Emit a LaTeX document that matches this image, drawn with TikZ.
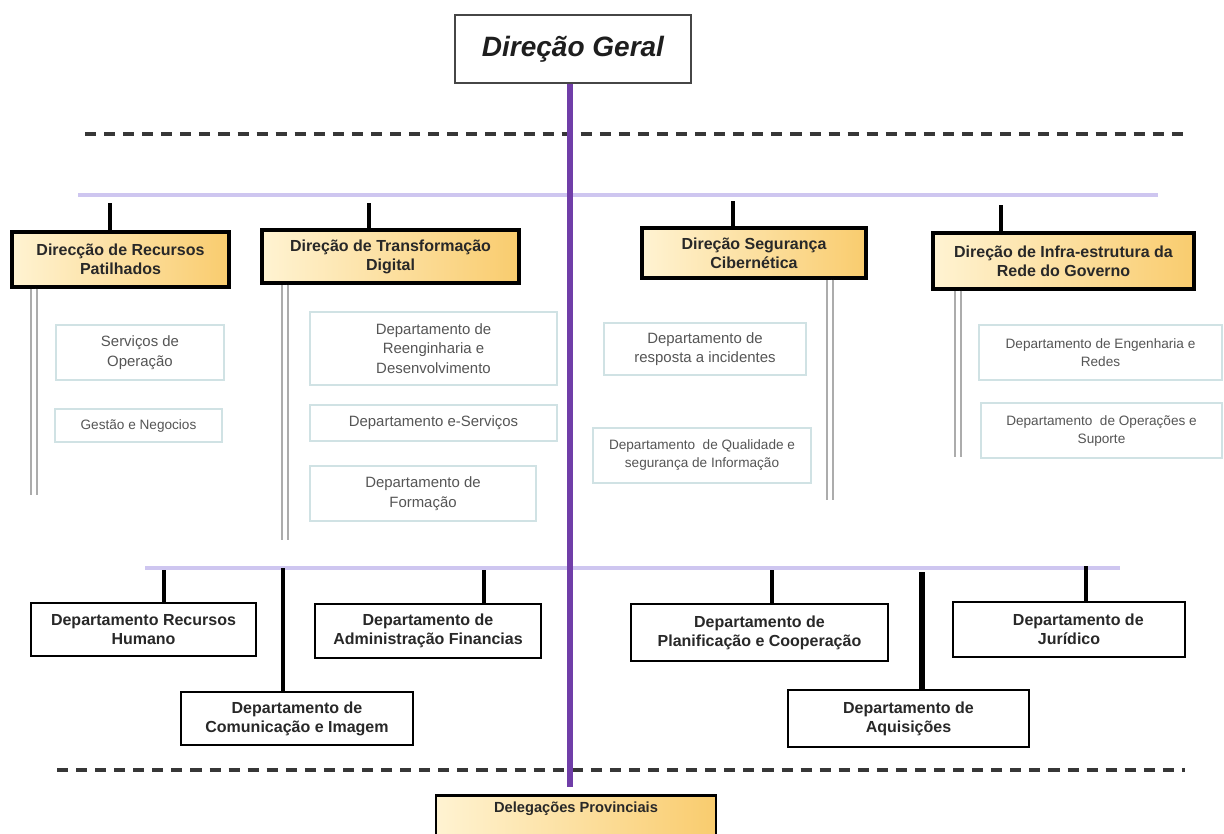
\documentclass[tikz,border=0pt]{standalone}
\usepackage{fontspec}
\setmainfont{Liberation Sans}
\begin{document}
\definecolor{gold1}{RGB}{255,243,210}
\definecolor{gold2}{RGB}{249,204,110}
\definecolor{purp}{RGB}{112,62,168}
\definecolor{lav}{RGB}{206,198,240}
\definecolor{subline}{RGB}{208,226,228}
\definecolor{subtext}{RGB}{85,85,85}
\definecolor{boldtext}{RGB}{40,40,40}
\definecolor{dblgray}{RGB}{172,172,172}
\definecolor{dashgray}{RGB}{55,55,55}
\begin{tikzpicture}[x=0.75pt,y=-0.75pt,
  sz/.style 2 args={minimum width=#1*0.75pt, minimum height=#2*0.75pt},
  topbox/.style={draw=black, line width=2.4pt, left color=gold1, right color=gold2,
    align=center, inner sep=1pt, text=boldtext,
    font=\fontsize{12pt}{14.3pt}\selectfont\bfseries},
  depbox/.style={draw=black, line width=2.2pt, fill=white,
    align=center, inner sep=1pt, text=boldtext,
    font=\fontsize{12pt}{14.3pt}\selectfont\bfseries},
  subbox/.style={draw=subline, line width=1.5pt, fill=white,
    align=center, inner sep=1pt, text=subtext,
    font=\fontsize{11.2pt}{14.6pt}\selectfont},
  smallsub/.style={subbox, font=\fontsize{10.2pt}{13.5pt}\selectfont},
  stub/.style={draw=black, line width=3.6pt},
  thinstub/.style={draw=black, line width=2.4pt},
  bar/.style={draw=lav, line width=3pt},
  trunk/.style={draw=purp, line width=3.8pt},
  sepline/.style={draw=dashgray, line width=2.6pt, dash pattern=on 8.3pt off 6pt},
  dbl/.style={draw=dblgray, line width=6pt, postaction={draw=white, line width=2.4pt}}
]
\clip (0,0) rectangle (1224,833);
\fill[white] (0,0) rectangle (1224,833);

% head of the organisation
\node[draw={rgb,255:red,70;green,70;blue,70}, line width=1.6pt, fill=white, sz={236}{68},
  font=\fontsize{21pt}{24pt}\selectfont\bfseries\itshape, text={rgb,255:red,30;green,30;blue,30}]
  (dg) at (573,49) {Direção Geral};

% separators
\coordinate (dl1) at (85,134);  \coordinate (dr1) at (1185,134);
\coordinate (dl2) at (57,770);  \coordinate (dr2) at (1185,770);
\draw[sepline] (dl1) -- (dr1);
\draw[sepline] (dl2) -- (dr2);

% horizontal bars
\coordinate (bl1) at (78,195);  \coordinate (br1) at (1158,195);
\coordinate (bl2) at (145,568); \coordinate (br2) at (1120,568);
\draw[bar] (bl1) -- (br1);
\draw[bar] (bl2) -- (br2);

% provincial delegations
\node[draw=black, line width=2.2pt, left color=gold1, right color=gold2, anchor=north,
  minimum width=280*0.75pt, text height=10pt, text depth=30pt, inner ysep=3pt,
  font=\fontsize{11pt}{13pt}\selectfont\bfseries, text=boldtext]
  (dp) at (576,794) {Delegações Provinciais};

% trunk
\coordinate (tend) at (570,787);
\draw[trunk] (dg.south -| tend) -- (tend);

% directorates
\node[topbox, sz={217}{55}] (g1) at (120.5,259.5) {Direcção de Recursos\\Patilhados};
\node[topbox, sz={257}{53}] (g2) at (390.5,256.5) {Direção de Transformação\\Digital};
\node[topbox, sz={224}{50}] (g3) at (754,253) {Direção Segurança\\Cibernética};
\node[topbox, sz={261}{56}] (g4) at (1063.5,261) {Direção de Infra-estrutura da\\Rede do Governo};

\coordinate (t1) at (110,203); \coordinate (t2) at (369,203);
\coordinate (t3) at (733,201); \coordinate (t4) at (1001,205);
\draw[stub] (t1) -- (t1 |- g1.north);
\draw[stub] (t2) -- (t2 |- g2.north);
\draw[stub] (t3) -- (t3 |- g3.north);
\draw[stub] (t4) -- (t4 |- g4.north);

% double rails under the directorates
\coordinate (d1) at (34,495);  \coordinate (d2) at (285,540);
\coordinate (d3) at (830,500); \coordinate (d4) at (958,457);
\draw[dbl] (d1 |- g1.south) -- (d1);
\draw[dbl] (d2 |- g2.south) -- (d2);
\draw[dbl] (d3 |- g3.south) -- (d3);
\draw[dbl] (d4 |- g4.south) -- (d4);

% units of each directorate
\node[subbox, sz={168}{55}] (s1) at (140,352.5) {Serviços de\\Operação};
\node[smallsub, sz={167}{33}] (s2) at (138.5,425.5) {Gestão e Negocios};
\node[subbox, sz={247}{73}] (s3) at (433.5,348.5) {Departamento de\\Reenginharia e\\Desenvolvimento};
\node[subbox, sz={247}{36}] (s4) at (433.5,423) {Departamento e-Serviços};
\node[subbox, sz={226}{55}] (s5) at (423,493.5) {Departamento de\\Formação};
\node[subbox, sz={202}{52}] (s6) at (705,349) {Departamento de\\resposta a incidentes};
\node[smallsub, sz={218}{55}] (s7) at (702,455.5) {Departamento \ de Qualidade e\\segurança de Informação};
\node[smallsub, sz={243}{55}] (s8) at (1100.5,352.5) {Departamento de Engenharia e\\Redes};
\node[smallsub, sz={241}{55}] (s9) at (1101.5,430.5) {Departamento \ de Operações e\\Suporte};

% departments
\node[depbox, sz={225}{53}] (b1) at (143.5,629.5) {Departamento Recursos\\Humano};
\node[depbox, sz={232}{53}] (b2) at (297,718.5) {Departamento de\\Comunicação e Imagem};
\node[depbox, sz={226}{54}] (b3) at (428,631) {Departamento de\\Administração Financias};
\node[depbox, sz={257}{57}] (b4) at (759.5,632.5) {Departamento de\\Planificação e Cooperação};
\node[depbox, sz={241}{57}] (b5) at (908.5,718.5) {Departamento de\\Aquisições};
\node[depbox, sz={232}{55}] (b6) at (1069,629.5) {\hspace*{14pt}Departamento de\\Jurídico};

\coordinate (u1) at (164,570); \coordinate (u2) at (283,568);
\coordinate (u3) at (484,570); \coordinate (u4) at (772,570);
\coordinate (u5) at (922,572); \coordinate (u6) at (1086,566);
\draw[stub] (u1) -- (u1 |- b1.north);
\draw[thinstub] (u2) -- (u2 |- b2.north);
\draw[stub] (u3) -- (u3 |- b3.north);
\draw[stub] (u4) -- (u4 |- b4.north);
\draw[stub, line width=4.2pt] (u5) -- (u5 |- b5.north);
\draw[stub] (u6) -- (u6 |- b6.north);
\end{tikzpicture}
\end{document}
